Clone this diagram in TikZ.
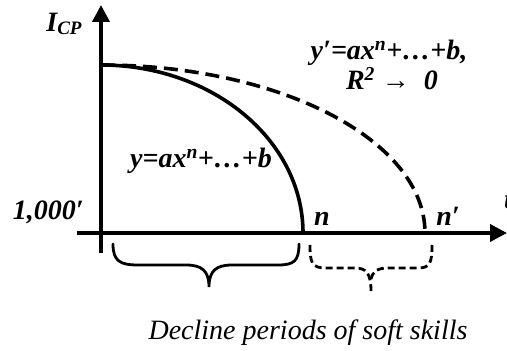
\documentclass[tikz,border=0pt]{standalone}
\usepackage{fontspec}
\setmainfont{Liberation Serif}
\usetikzlibrary{arrows.meta}
\begin{document}
\begin{tikzpicture}[x=1pt,y=1pt,
  axis/.style={line width=3.8pt,-{Triangle[length=17pt,width=17pt]}},
  curve/.style={line width=3.6pt},
  dcurve/.style={line width=3.6pt,dash pattern=on 14pt off 7pt},
  brace/.style={line width=2.8pt,line cap=round},
  dbrace/.style={line width=2.8pt,dash pattern=on 7pt off 4pt},
  lab/.style={font=\bfseries\itshape\fontsize{28}{30}\selectfont,inner sep=0pt},
  captext/.style={font=\itshape\fontsize{28}{30}\selectfont,inner sep=0pt}]
\useasboundingbox (0,0) rectangle (507,351);
% axes
\coordinate (yb) at (101,98);
\coordinate (yt) at (101,346);
\coordinate (xl) at (77,118);
\coordinate (xr) at (507,118);
\draw[axis] (yb) -- (yt);
\draw[axis] (xl) -- (xr);
% curves
\coordinate (s) at (101,286);
\draw[curve] (s) arc[start angle=90,end angle=0,x radius=202pt,y radius=168pt];
\draw[dcurve] (s) arc[start angle=90,end angle=0,x radius=324pt,y radius=168pt];
% solid brace
\draw[brace] (113,107) .. controls (113,90) and (120,86) .. (138,86)
  -- (186,86) .. controls (202,86) and (209,80) .. (209,64)
  .. controls (209,80) and (216,86) .. (232,86)
  -- (278,86) .. controls (294,86) and (299,90) .. (299,107);
% dashed brace
\draw[dbrace] (310,106) .. controls (310,88) and (312,83) .. (326,83)
  -- (355,83) .. controls (366,83) and (371,78) .. (371,60);
\draw[dbrace] (371,72) .. controls (373,80) and (378,83) .. (388,83)
  -- (418,83) .. controls (430,83) and (432,88) .. (432,106);
% labels
\node[lab,anchor=base] (icp) at (64,319) {I\raisebox{-3pt}{\fontsize{19}{19}\selectfont CP}};
\node[lab,anchor=base east] (k) at (84,131) {1,000′};
\node[lab,anchor=base] (n) at (322,125) {n};
\node[lab,anchor=base] (np) at (448,125) {n′};
\node[lab,anchor=base west] (t) at (504,142) {t};
\node[lab,anchor=base] (f1) at (201,183) {y=ax\textsuperscript{n}+…+b};
\node[lab,anchor=base] (f2) at (389,291) {y′=ax\textsuperscript{n}+…+b,};
\node[lab,anchor=base] (f3) at (392,261) {R\textsuperscript{2} →\ \ 0};
\node[captext,anchor=base] (c) at (308,11) {Decline periods of soft skills};
\end{tikzpicture}
\end{document}
